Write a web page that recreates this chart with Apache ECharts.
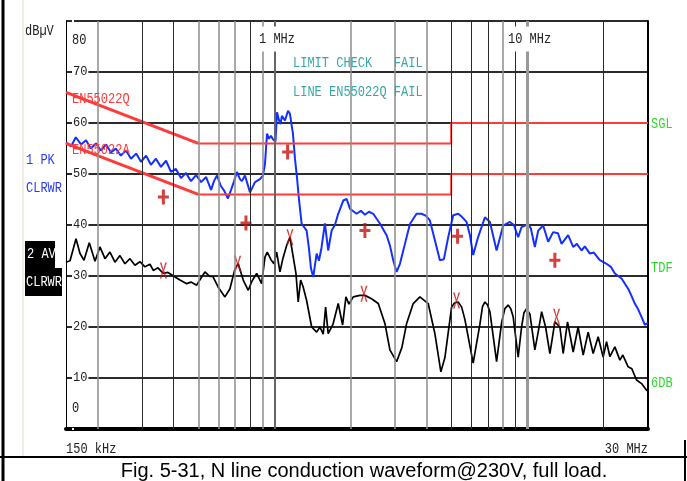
<!DOCTYPE html>
<html>
<head>
<meta charset="utf-8">
<title>N line conduction waveform</title>
<script src="https://cdn.jsdelivr.net/npm/echarts@6/dist/echarts.min.js"></script>
<style>
  html, body { margin: 0; padding: 0; background: #fff; }
  #chart { width: 687px; height: 481px; }
</style>
</head>
<body>
<div id="chart"></div>
<script>
// frequencies in MHz, levels in dBuV
const gridFreqs = [0.2, 0.3, 0.4, 0.5, 0.6, 0.7, 0.8, 0.9, 1, 2, 3, 4, 5, 6, 7, 8, 9, 10, 20]
const grayGrid = [0.2, 0.5, 0.6, 0.7, 0.9, 2, 3, 4, 8]

const qpLimit = [[0.15, 66], [0.5, 56], [5, 56], [5, 60], [30, 60]]
const avLimit = [[0.15, 56], [0.5, 46], [5, 46], [5, 50], [30, 50]]

// 1 PK trace
const peakTrace = [
  [0.150, 56.2], [0.157, 55.4], [0.164, 57.2], [0.172, 55.8], [0.180, 56.6], [0.188, 55.0], [0.197, 56.0],
  [0.206, 54.6], [0.216, 55.8], [0.226, 54.2], [0.236, 55.0], [0.247, 53.6], [0.259, 54.6], [0.271, 53.0],
  [0.284, 54.0], [0.297, 52.4], [0.311, 53.6], [0.325, 51.8], [0.340, 53.0], [0.356, 51.4], [0.373, 52.6],
  [0.390, 50.4], [0.408, 51.0], [0.427, 49.2], [0.447, 50.2], [0.468, 48.6], [0.490, 49.8], [0.513, 48.4],
  [0.537, 49.4], [0.562, 46.9], [0.577, 48.6], [0.593, 49.7], [0.615, 47.6], [0.632, 46.8], [0.655, 45.2],
  [0.674, 46.9], [0.692, 48.5], [0.711, 50.4], [0.731, 49.0], [0.744, 48.6], [0.765, 49.7], [0.801, 46.4],
  [0.838, 48.4], [0.877, 49.0], [0.901, 49.7], [0.918, 52.0], [0.935, 57.9], [0.952, 56.9], [0.969, 57.5],
  [0.987, 56.8], [1.010, 56.4], [1.024, 62.1], [1.042, 60.6], [1.057, 59.8], [1.071, 61.4], [1.101, 60.5],
  [1.132, 62.4], [1.152, 61.8], [1.184, 57.9], [1.206, 53.0], [1.228, 49.4], [1.251, 45.0], [1.281, 40.3],
  [1.297, 39.9], [1.341, 38.9], [1.369, 35.5], [1.395, 31.5], [1.424, 29.8], [1.469, 34.4], [1.500, 33.0],
  [1.535, 35.5], [1.584, 40.3], [1.632, 35.0], [1.684, 38.9], [1.735, 40.0], [1.788, 42.2], [1.872, 44.8],
  [1.931, 45.1], [1.989, 43.2], [2.114, 42.2], [2.199, 42.8], [2.280, 42.0], [2.365, 42.6], [2.459, 42.2],
  [2.613, 40.3], [2.777, 38.0], [2.862, 36.0], [2.950, 33.1], [3.042, 30.8], [3.136, 32.4], [3.282, 36.3],
  [3.435, 40.2], [3.649, 42.2], [3.819, 42.2], [3.979, 41.8], [4.119, 40.9], [4.311, 37.0], [4.512, 33.1],
  [4.679, 33.3], [4.866, 37.6], [5.093, 41.9], [5.330, 42.2], [5.511, 41.6], [5.752, 40.6], [5.930, 38.0],
  [6.108, 34.1], [6.377, 37.5], [6.796, 41.5], [7.113, 40.6], [7.560, 35.0], [8.028, 39.9], [8.531, 40.6],
  [8.848, 40.0], [9.201, 37.6], [9.491, 39.6], [10.08, 40.2], [10.33, 39.3], [10.71, 35.7], [11.04, 38.9],
  [11.55, 39.9], [12.09, 36.7], [12.65, 38.6], [13.21, 38.4], [13.66, 36.3], [14.50, 38.0], [15.18, 35.7],
  [15.70, 36.3], [16.38, 35.0], [16.88, 35.8], [17.67, 34.4], [18.32, 34.6], [19.35, 33.1], [20.57, 32.4],
  [21.39, 31.8], [22.19, 30.5], [23.58, 29.5], [25.04, 27.5], [25.66, 26.4], [26.61, 24.6], [27.35, 23.6],
  [27.85, 23.3], [28.50, 21.6], [29.15, 20.4], [30.0, 20.8]
]

// 2 AV trace
const avgTrace = [
  [0.150, 32.7], [0.1556, 33.0], [0.1643, 37.3], [0.1704, 34.4], [0.1767, 33.1], [0.1854, 36.5], [0.1953, 32.9],
  [0.2043, 35.7], [0.2139, 33.4], [0.2238, 34.7], [0.2342, 32.7], [0.2451, 34.0], [0.2565, 32.4], [0.2685, 33.4],
  [0.2810, 32.1], [0.2940, 32.8], [0.3077, 31.8], [0.3222, 32.3], [0.3320, 31.1], [0.3465, 31.6], [0.3636, 30.5],
  [0.3795, 30.7], [0.4046, 29.8], [0.4234, 29.2], [0.4500, 28.5], [0.4679, 28.8], [0.4928, 28.2], [0.5158, 29.8],
  [0.5315, 30.8], [0.5562, 29.9], [0.5716, 29.9], [0.5999, 27.8], [0.6375, 25.9], [0.6672, 27.5], [0.6983, 31.4],
  [0.7196, 32.4], [0.7531, 29.2], [0.7882, 27.2], [0.8152, 29.0], [0.8509, 30.5], [0.8905, 28.5], [0.9177, 33.7],
  [0.9371, 34.7], [0.9692, 33.2], [0.9961, 32.4], [1.0208, 34.7], [1.0520, 30.8], [1.0811, 33.5], [1.1181, 36.0],
  [1.152, 37.6], [1.217, 30.5], [1.242, 24.9], [1.270, 29.2], [1.297, 28.0], [1.341, 25.2], [1.404, 20.0],
  [1.469, 19.0], [1.514, 20.0], [1.560, 18.6], [1.594, 23.9], [1.632, 18.7], [1.704, 20.5], [1.788, 24.6],
  [1.861, 20.4], [1.918, 25.9], [1.971, 24.5], [2.050, 25.9], [2.178, 26.2], [2.280, 26.2], [2.430, 25.5],
  [2.574, 24.6], [2.735, 20.7], [2.862, 15.5], [3.042, 13.2], [3.193, 16.0], [3.333, 20.7], [3.539, 24.6],
  [3.761, 25.9], [4.056, 24.6], [4.311, 18.7], [4.552, 11.2], [4.722, 14.0], [5.019, 23.9], [5.150, 24.7],
  [5.330, 24.9], [5.500, 23.9], [5.664, 21.5], [6.108, 12.9], [6.493, 20.5], [6.650, 24.0], [6.796, 24.9],
  [6.950, 24.4], [7.113, 23.0], [7.560, 13.2], [7.911, 20.8], [8.150, 23.6], [8.400, 24.3], [8.600, 23.6],
  [8.792, 22.0], [9.201, 14.1], [9.491, 20.0], [9.700, 22.8], [9.933, 23.6], [10.24, 22.5], [10.71, 15.5],
  [11.04, 19.0], [11.39, 23.0], [11.81, 20.0], [12.28, 14.8], [12.85, 21.0], [13.45, 20.0], [13.86, 14.8],
  [14.42, 21.0], [15.18, 15.1], [15.88, 20.0], [16.63, 14.5], [17.40, 19.0], [18.21, 14.8], [19.06, 18.1],
  [19.94, 14.1], [20.57, 17.1], [21.20, 14.2], [22.19, 16.1], [23.22, 13.5], [23.86, 14.5], [25.04, 12.2],
  [25.90, 11.8], [27.03, 9.6], [28.29, 8.9], [29.61, 7.6], [30.0, 7.5]
]

const peakMarks = [[0.364, 45.5], [0.772, 40.4], [1.128, 54.3], [2.28, 38.9], [5.30, 37.8], [12.85, 33.1]]
const avgMarks = [[0.364, 31.1], [0.716, 32.4], [1.152, 37.6], [2.26, 26.5], [5.25, 25.2], [13.05, 22.0]]

const mono = "'Liberation Mono', 'DejaVu Sans Mono', monospace"
const limitRed = '#ff3a3a'
const markRed = '#c81010'

const plusPath = 'path://M4,0h3v6h4v3h-4v6h-3v-6h-4v-3h4z'
const crossPath = 'path://M0,0L1.6,0L3.5,7L5.4,0L7,0L4.3,8L7,16L5.4,16L3.5,9L1.6,16L0,16L2.7,8Z'

function txt(x, y, text, fill, opts) {
  return Object.assign({
    type: 'text', x: x, y: y, z: 50, scaleY: 1.2, silent: true,
    style: Object.assign({ text: text, fill: fill, font: '12px ' + mono, verticalAlign: 'middle' }, (opts && opts.style) || {})
  }, (opts && opts.el) || {})
}

function limitSeries(data, width) {
  return {
    type: 'line', data: data, z: 3, showSymbol: false, silent: true,
    lineStyle: { color: limitRed, width: width }
  }
}

const chart = echarts.init(document.getElementById('chart'))

chart.setOption({
  animation: false,
  backgroundColor: '#fff',
  grid: { left: 66, right: 39, top: 21, bottom: 52 },
  xAxis: {
    type: 'log', logBase: 10, min: 0.15, max: 30,
    axisLine: { show: true, onZero: false, lineStyle: { color: '#000', width: 4 } },
    axisTick: { show: false },
    axisLabel: { show: false },
    splitLine: { show: false }
  },
  yAxis: [{
    type: 'value', min: 0, max: 80, interval: 10,
    axisLine: { show: true, lineStyle: { color: '#000', width: 1 } },
    axisTick: { show: false },
    axisLabel: {
      inside: true, margin: 6, color: '#222', fontFamily: mono, fontSize: 12,
      backgroundColor: '#fff', padding: [1, 1],
      formatter: v => (v === 0 || v === 80) ? '' : String(v)
    },
    splitLine: { lineStyle: { color: '#2b2b2b', width: 2 } }
  }, {
    type: 'value', min: 0, max: 80, position: 'right',
    axisLine: { show: true, lineStyle: { color: '#000', width: 2 } },
    axisTick: { show: false }, axisLabel: { show: false }, splitLine: { show: false }
  }],
  series: [
    {
      // vertical grid lines
      type: 'line', data: [], z: 1, silent: true,
      markLine: {
        silent: true, animation: false, symbol: ['none', 'none'], label: { show: false },
        data: gridFreqs.map(f => ({
          xAxis: f,
          lineStyle: f === 1 ? { color: '#666', width: 2, type: 'solid' }
            : f === 10 ? { color: '#999', width: 3, type: 'solid' }
            : grayGrid.includes(f) ? { color: '#8c8c8c', width: 1.5, type: 'solid' }
            : { color: '#2a2a2a', width: 1, type: 'solid' }
        }))
      }
    },
    {
      name: '2 AV', type: 'line', data: avgTrace, z: 2, showSymbol: false, silent: true,
      lineStyle: { color: '#000', width: 1.7 }
    },
    {
      name: '1 PK', type: 'line', data: peakTrace, z: 2, showSymbol: false, silent: true,
      lineStyle: { color: '#1430ff', width: 2 }
    },
    limitSeries(qpLimit.slice(0, 2), 3),
    limitSeries(qpLimit.slice(1), 2),
    limitSeries(avLimit.slice(0, 2), 3),
    limitSeries(avLimit.slice(1), 2),
    {
      type: 'scatter', data: peakMarks, z: 4, silent: true,
      symbol: plusPath, symbolSize: [11, 15], itemStyle: { color: markRed }
    },
    {
      type: 'scatter', data: avgMarks, z: 4, silent: true,
      symbol: crossPath, symbolSize: [7, 16], itemStyle: { color: markRed }
    }
  ],
  graphic: {
    elements: [
      // frame
      { type: 'line', z: 50, silent: true, shape: { x1: 3, y1: 0, x2: 3, y2: 481 }, style: { stroke: '#000', lineWidth: 3 } },
      { type: 'line', z: 50, silent: true, shape: { x1: 23, y1: 0, x2: 23, y2: 456 }, style: { stroke: '#e4dccb', lineWidth: 1 } },
      { type: 'line', z: 50, silent: true, shape: { x1: 0, y1: 457, x2: 687, y2: 457 }, style: { stroke: '#000', lineWidth: 2 } },
      { type: 'line', z: 50, silent: true, shape: { x1: 685, y1: 440, x2: 685, y2: 481 }, style: { stroke: '#000', lineWidth: 2 } },

      txt(25, 31, 'dBµV', '#222'),
      txt(72, 40, '80', '#222'),
      txt(72, 408, '0', '#222'),

      txt(26, 160, '1 PK', '#2a3cf0'),
      txt(26, 188, 'CLRWR', '#2a3cf0'),
      { type: 'rect', z: 49, silent: true, shape: { x: 25, y: 241, width: 30, height: 27 }, style: { fill: '#000' } },
      { type: 'rect', z: 49, silent: true, shape: { x: 25, y: 268, width: 37, height: 28 }, style: { fill: '#000' } },
      txt(27, 254, '2 AV', '#fff'),
      txt(26, 282, 'CLRWR', '#fff'),

      txt(72, 99, 'EN55022Q', limitRed),
      txt(72, 150, 'EN55022A', limitRed),

      txt(293, 63, 'LIMIT CHECK   FAIL', '#36a8a8'),
      txt(293, 92, 'LINE EN55022Q FAIL', '#36a8a8'),

      txt(257, 39, '1 MHz', '#222', { style: { backgroundColor: '#fff', padding: [2, 2, 7, 2] } }),
      txt(506, 39, '10 MHz', '#222', { style: { backgroundColor: '#fff', padding: [2, 2, 7, 2] } }),

      txt(651, 124, 'SGL', '#2bd82b'),
      txt(651, 268, 'TDF', '#2bd82b'),
      txt(651, 383, '6DB', '#2bd82b'),

      txt(66, 449, '150 kHz', '#222'),
      txt(648, 449, '30 MHz', '#222', { style: { align: 'right' } }),

      {
        type: 'text', x: 364, y: 471, z: 50, silent: true,
        style: {
          text: 'Fig. 5-31, N line conduction waveform@230V, full load.',
          fill: '#000', font: "20px 'Liberation Sans', Arial, sans-serif",
          align: 'center', verticalAlign: 'middle'
        }
      }
    ]
  }
})
</script>
</body>
</html>
